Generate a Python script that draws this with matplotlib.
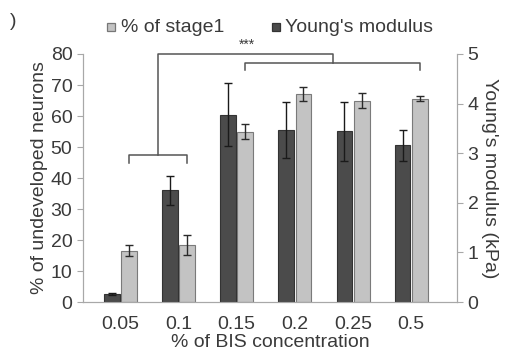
import matplotlib.pyplot as plt
from matplotlib.patches import Rectangle
import numpy as np

plt.rcParams['font.family'] = ['Liberation Sans', 'DejaVu Sans']

# data
conc = ['0.05', '0.1', '0.15', '0.2', '0.25', '0.5']
stage1 = [16.5, 18.5, 55.0, 67.0, 65.0, 65.5]          # % of undeveloped neurons
stage1_err = [1.8, 3.2, 2.5, 2.3, 2.5, 0.8]
young = [0.16, 2.25, 3.78, 3.47, 3.44, 3.16]            # kPa
young_err = [0.02, 0.29, 0.63, 0.56, 0.60, 0.31]

dark = '#4b4b4b'
light = '#c3c3c3'
txt = '#3a3a3a'
spine = '#a8a8a8'
fs = 14

fig = plt.figure(figsize=(5.08, 3.6), dpi=100)
ax = fig.add_axes([0.163, 0.161, 0.737, 0.689])
ax2 = ax.twinx()

x = np.arange(len(conc))
w = 0.27
off = 0.148

ax2.bar(x - off, young, w, color=dark, edgecolor='#333333', linewidth=0.8,
        yerr=young_err, ecolor='#1a1a1a', capsize=3, error_kw={'elinewidth': 1})
ax.bar(x + off, stage1, w, color=light, edgecolor='#7a7a7a', linewidth=0.8,
       yerr=stage1_err, ecolor='#2a2a2a', capsize=3, error_kw={'elinewidth': 1})

ax.set_xlim(-0.645, 5.79)
ax.set_ylim(0, 80)
ax2.set_ylim(0, 5)
ax.set_yticks(range(0, 81, 10))
ax2.set_yticks(range(0, 6))
ax.set_xticks(x)
ax.set_xticklabels(conc)

for a in (ax, ax2):
    for s in a.spines.values():
        s.set_color(spine)
    a.spines['top'].set_visible(False)
    a.tick_params(colors=txt, labelsize=fs, length=4, color=spine)
ax.tick_params(axis='x', length=0, pad=10)

ax.set_ylabel('% of undeveloped neurons', fontsize=fs, color=txt, labelpad=2)
ax2.set_ylabel("Young's modulus (kPa)", fontsize=fs, color=txt, rotation=-90, labelpad=14)
ax.set_xlabel('% of BIS concentration', fontsize=fs, color=txt, labelpad=1)

# significance brackets
bc = '#555555'
ax.plot([0.148, 0.148, 1.148, 1.148], [45, 47.3, 47.3, 45], color=bc, lw=1.1, clip_on=False)
ax.plot([2.148, 2.148, 5.148, 5.148], [75, 77, 77, 75], color=bc, lw=1.1, clip_on=False)
ax.plot([0.648, 0.648, 3.648, 3.648], [47.3, 80, 80, 77], color=bc, lw=1.1, clip_on=False)
ax.text(2.18, 80.8, '***', ha='center', va='bottom', fontsize=10, color=txt)

# legend (hand placed, like the original)
sq_w, sq_h = 8 / 508, 8 / 360
fig.patches.append(Rectangle((107 / 508, 0.925 - sq_h / 2), sq_w, sq_h, transform=fig.transFigure,
                             facecolor=light, edgecolor='#777777', lw=0.9))
fig.text(121 / 508, 0.925, '% of stage1', fontsize=fs, color=txt, va='center')
fig.patches.append(Rectangle((272 / 508, 0.925 - sq_h / 2), sq_w, sq_h, transform=fig.transFigure,
                             facecolor=dark, edgecolor='#333333', lw=0.9))
fig.text(285 / 508, 0.925, "Young's modulus", fontsize=fs, color=txt, va='center')
fig.text(0.02, 0.94, ')', fontsize=fs, color=txt, va='center')

fig.savefig('out.png', dpi=100)
